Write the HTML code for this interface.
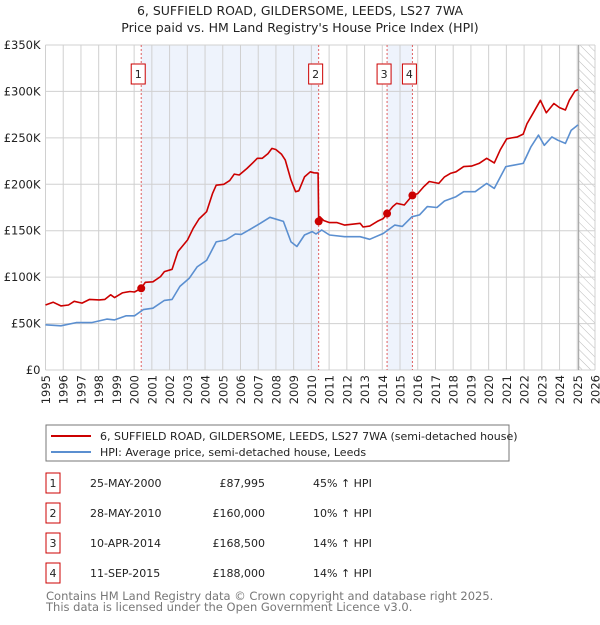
<!DOCTYPE html>
<html><head><meta charset="utf-8"><style>
body{margin:0;background:#fff;font-family:"Liberation Sans","DejaVu Sans",sans-serif;}
svg text{font-family:"DejaVu Sans","Liberation Sans",sans-serif;}
</style></head><body>
<svg id="c" width="600" height="620" viewBox="0 0 600 620" xmlns="http://www.w3.org/2000/svg">
<text x="300" y="15" text-anchor="middle" font-size="12.5" fill="#222">6, SUFFIELD ROAD, GILDERSOME, LEEDS, LS27 7WA</text>
<text x="300" y="32" text-anchor="middle" font-size="12.5" fill="#222">Price paid vs. HM Land Registry's House Price Index (HPI)</text>
<g id="plot"></g>
<g>
<rect x="46" y="425" width="463" height="36" fill="#fff" stroke="#777"/>
<line x1="51" y1="436" x2="91" y2="436" stroke="#cc0000" stroke-width="2"/>
<text x="100" y="440" font-size="11" fill="#222">6, SUFFIELD ROAD, GILDERSOME, LEEDS, LS27 7WA (semi-detached house)</text>
<line x1="51" y1="452" x2="91" y2="452" stroke="#5b8fd0" stroke-width="2"/>
<text x="100" y="456" font-size="11" fill="#222">HPI: Average price, semi-detached house, Leeds</text>
</g>
<g id="table"></g>
<text x="46" y="600" font-size="11.5" fill="#777">Contains HM Land Registry data © Crown copyright and database right 2025.</text>
<text x="46" y="611" font-size="11.5" fill="#777">This data is licensed under the Open Government Licence v3.0.</text>
</svg>
<script>
const redYears=[1995.0,1995.43,1995.87,1996.3,1996.62,1997.06,1997.49,1998.03,1998.35,1998.68,1998.9,1999.33,1999.76,2000.02,2000.4,2000.63,2001.06,2001.49,2001.71,2002.14,2002.47,2003.01,2003.33,2003.66,2004.09,2004.42,2004.63,2005.06,2005.39,2005.65,2005.93,2006.36,2006.69,2006.95,2007.23,2007.55,2007.77,2007.99,2008.31,2008.53,2008.85,2009.11,2009.29,2009.61,2009.94,2010.15,2010.38,2010.41,2010.48,2010.69,2011.02,2011.45,2011.88,2012.32,2012.75,2012.92,2013.29,2013.72,2014.05,2014.27,2014.59,2014.81,2015.24,2015.7,2016.0,2016.32,2016.65,2017.19,2017.51,2017.84,2018.16,2018.59,2019.03,2019.46,2019.89,2020.32,2020.65,2021.02,2021.3,2021.62,2021.95,2022.16,2022.49,2022.92,2023.25,2023.68,2024.0,2024.33,2024.55,2024.87,2025.04];
const redValues=[70,73,69,70,74,72,76,75.5,76,81,78,83,84.5,84,88,94.5,95,100.6,106,108.5,127.5,140,152.6,162.6,170.5,190,199,200,204,211,210,217,223,228,228,233,238.6,237.5,232.5,226,204.5,192,193,208,213.5,212.4,212,160,165,161,158.7,158.7,156,157,158,154,155,160,163,168.5,176,179.5,177.7,188,190,197,203,201,208,211.7,213.5,219,219.6,222.5,228,223,237,249,250,251,254,265,276,290.5,277,287,282.6,280,290.5,300.5,302];
const hpiYears=[1995.0,1995.87,1996.73,1997.6,1998.46,1998.9,1999.55,2000.02,2000.52,2001.06,2001.71,2002.14,2002.58,2003.12,2003.55,2004.09,2004.63,2005.17,2005.71,2006.04,2006.58,2007.12,2007.66,2008.42,2008.85,2009.18,2009.61,2010.04,2010.26,2010.58,2011.02,2011.88,2012.75,2013.29,2014.05,2014.7,2015.13,2015.67,2016.1,2016.54,2017.08,2017.51,2018.16,2018.59,2019.24,2019.89,2020.32,2020.97,2021.41,2021.95,2022.38,2022.81,2023.14,2023.57,2023.9,2024.33,2024.65,2025.04];
const hpiValues=[48.7,47.6,51,51,54.8,54,58.4,58.4,65,66.6,75,76,90,99,111,118,138,140,146.5,146,152,158,164.4,160,138,133,145.4,149,146.5,150.8,145.4,143.6,143.6,140.8,147,156,154.6,165,167,176,175,182,186.6,192,192,201,195.6,219,220.6,222.5,240,253,242,251,247.5,244,258,264];
const saleLabels=["1","2","3","4"];
const saleYears=[2000.4,2010.41,2014.27,2015.7];
const saleValues=[87.995,160,168.5,188];
const saleDates=["25-MAY-2000","28-MAY-2010","10-APR-2014","11-SEP-2015"];
const salePrices=["£87,995","£160,000","£168,500","£188,000"];
const saleHpi=["45% ↑ HPI","10% ↑ HPI","14% ↑ HPI","14% ↑ HPI"];
const yTicks=[0,50,100,150,200,250,300,350];
const yTickLabels=["£0","£50K","£100K","£150K","£200K","£250K","£300K","£350K"];
const xTicks=[1995,1996,1997,1998,1999,2000,2001,2002,2003,2004,2005,2006,2007,2008,2009,2010,2011,2012,2013,2014,2015,2016,2017,2018,2019,2020,2021,2022,2023,2024,2025,2026];
const dataEnd=2025.08;

const NS="http://www.w3.org/2000/svg";
const L=45.5,R=595,T=45,B=370;
const X=y=>L+(y-1995)/31*(R-L);
const Y=v=>B-v/350*(B-T);
const plot=document.getElementById('plot');
function mk(tag,attrs,parent){const e=document.createElementNS(NS,tag);for(const k in attrs)e.setAttribute(k,attrs[k]);(parent||plot).appendChild(e);return e;}
[[0,1],[2,3]].forEach((p,i)=>{
 const r=mk('rect',{x:X(saleYears[p[0]]),y:T,width:X(saleYears[p[1]])-X(saleYears[p[0]]),height:B-T,fill:'#eef3fc'});
 
 
});
const defs=mk('defs',{});
const pat=mk('pattern',{id:'h',patternUnits:'userSpaceOnUse',width:6,height:6,patternTransform:'rotate(-45)'},defs);
mk('line',{x1:0,y1:0,x2:0,y2:6,stroke:'#bbb','stroke-width':1},pat);
const hr=mk('rect',{x:X(dataEnd),y:T,width:R-X(dataEnd),height:B-T,fill:'url(#h)'});


xTicks.forEach(t=>{
 const g=mk('line',{x1:X(t),y1:T,x2:X(t),y2:B,stroke:'#d0d0d0','stroke-width':1});
 
 
 const tx=mk('text',{x:0,y:0,'text-anchor':'end','font-size':11.5,fill:'#222',transform:'translate('+(X(t)+4.5)+','+(B+5)+') rotate(-90)'});
 tx.textContent=t;
 
 
});
yTicks.forEach((t,i)=>{
 const g=mk('line',{x1:L,y1:Y(t),x2:R,y2:Y(t),stroke:'#d0d0d0','stroke-width':1});
 
 
 const tx=mk('text',{x:L-5,y:Y(t)+4,'text-anchor':'end','font-size':11.5,fill:'#222'});
 tx.textContent=yTickLabels[i];
 
 
});
mk('line',{x1:X(dataEnd),y1:T,x2:X(dataEnd),y2:B,stroke:'#999'});
saleYears.forEach((s,i)=>{
 const v=mk('line',{x1:X(s),y1:T,x2:X(s),y2:B,stroke:'#e06060','stroke-dasharray':'2,2','stroke-width':1});
 
 
 const g=mk('g',{});
 
 
 mk('rect',{x:X(s)-10,y:64,width:14,height:20,fill:'#fff',stroke:'#cc0000'},g);
 const t=mk('text',{x:X(s)-3,y:78,'text-anchor':'middle','font-size':11,fill:'#222'},g);
 t.textContent=saleLabels[i];
});
function line(xs,vs,col,name){
 const d=xs.map((x,i)=>(i?'L':'M')+X(x).toFixed(1)+','+Y(vs[i]).toFixed(1)).join('');
 const p=mk('path',{d:d,fill:'none',stroke:col,'stroke-width':1.6,'stroke-linejoin':'round'});
 
 
}
line(hpiYears,hpiValues,'#5b8fd0','hpi-line');
line(redYears,redValues,'#cc0000','property-price-line');
saleYears.forEach((s,i)=>{
 const c=mk('circle',{cx:X(s),cy:Y(saleValues[i]),r:4,fill:'#cc0000'});
 
 
});
const tb=document.getElementById('table');
saleLabels.forEach((lab,i)=>{
 const y=483+i*30;
 const g=mk('g',{},tb);
 
 
 mk('rect',{x:46,y:y-10,width:14,height:20,fill:'#fff',stroke:'#cc0000'},g);
 const a=mk('text',{x:53,y:y+4,'text-anchor':'middle','font-size':11,fill:'#222'},g);a.textContent=lab;
 const b=mk('text',{x:90,y:y+4,'font-size':11,fill:'#222'},g);b.textContent=saleDates[i];
 const c=mk('text',{x:265,y:y+4,'text-anchor':'end','font-size':11,fill:'#222'},g);c.textContent=salePrices[i];
 const d=mk('text',{x:313,y:y+4,'font-size':11,fill:'#222'},g);d.textContent=saleHpi[i];
});
</script>
</body></html>
